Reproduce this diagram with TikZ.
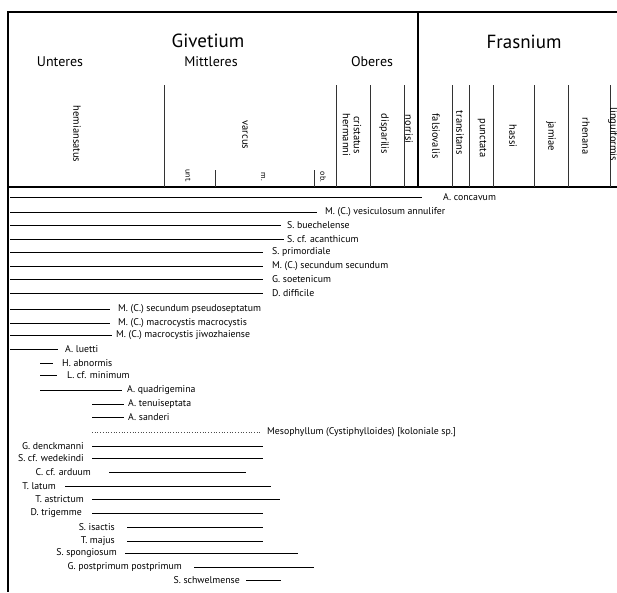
\documentclass[tikz,border=0pt]{standalone}
\usepackage{fontspec}
\setmainfont{PT Sans}
\begin{document}
\begin{tikzpicture}[x=1pt,y=-1pt,
  frame/.style={line width=1.8pt},
  div/.style={line width=0.9pt, black!80},
  bar/.style={line width=0.8pt},
  lab/.style={font=\fontsize{9.8}{10}\selectfont, inner sep=0pt},
  big/.style={font=\fontsize{19}{22}\selectfont, inner sep=0pt, anchor=base},
  mid/.style={font=\fontsize{14}{16}\selectfont, inner sep=0pt, anchor=base},
  zone/.style={font=\fontsize{10.5}{11}\selectfont, inner sep=0pt, rotate=-90, align=center},
  sub/.style={font=\fontsize{8}{9}\selectfont, inner sep=0pt, rotate=-90},
]
\useasboundingbox (0,0) rectangle (617,592);
% frame
\coordinate (tl) at (8,12);
\coordinate (tr) at (617,12);
\coordinate (bl) at (8,592);
\coordinate (hl) at (8,187);
\coordinate (hr) at (617,187);
\coordinate (ft) at (418,12);
\coordinate (fb) at (418,187);
\draw[frame] (tr) -- (tl) -- (bl);
\draw[frame] (hl) -- (hr);
\draw[frame] (ft) -- (fb);
% column dividers
\foreach \cx [count=\k] in {164,336,370,404,452,469,493,534,568,610} {
  \coordinate (dt\k) at (\cx,85);
  \coordinate (db\k) at (\cx,187);
  \draw[div] (dt\k) -- (db\k);
}
\foreach \cx [count=\k] in {215,314} {
  \coordinate (st\k) at (\cx,170);
  \coordinate (sb\k) at (\cx,187);
  \draw[div] (st\k) -- (sb\k);
}
% header texts
\node[big] (giv) at (208,47) {Givetium};
\node[big] (fra) at (524,48) {Frasnium};
\node[mid] (unt) at (60,66) {Unteres};
\node[mid] (mit) at (211,66) {Mittleres};
\node[mid] (obe) at (372,66) {Oberes};
% zones
\node[zone] (z1) at (77,134) {hemiansatus};
\node[zone] (z2) at (245,135) {varcus};
\node[zone] (z3) at (352,135) {cristatus\\hermanni};
\node[zone] (z4) at (384,134) {disparilis};
\node[zone] (z5) at (409,129) {norrisi};
\node[zone] (z6) at (436,136) {falsiovalis};
\node[zone] (z7) at (460,133) {transitans};
\node[zone] (z8) at (482,138) {punctata};
\node[zone] (z9) at (513,136) {hassi};
\node[zone] (z10) at (551,136) {jamiae};
\node[zone] (z11) at (586,136) {rhenana};
\node[zone, anchor=west] (z12) at (613,107) {linguiformis};
\node[sub] (u1) at (188,176) {unt.};
\node[sub] (u2) at (263,177) {m.};
\node[sub] (u3) at (323,177) {ob.};
% ranges with label on the right
\foreach \xa/\xb/\yy/\lx/\txt [count=\i] in {
  10/422/197/443/{A. concavum},
  10/317/212/325/{M. (C.) vesiculosum annulifer},
  10/281/225/287/{S. buechelense},
  10/284/239/287/{S. cf. acanthicum},
  10/263/252/272/{S. primordiale},
  10/263/266/272/{M. (C.) secundum secundum},
  10/263/279/272/{G. soetenicum},
  10/263/293/272/{D. difficile},
  10/110/309/118/{M. (C.) secundum pseudoseptatum},
  10/110/323/118/{M. (C.) macrocystis macrocystis},
  10/112/335/116/{M. (C.) macrocystis jiwozhaiense},
  10/58/349/65/{A. luetti},
  40/53/363/62/{H. abnormis},
  40/57/375/67/{L. cf. minimum},
  40/122/390/127/{A. quadrigemina},
  92/124/404/128/{A. tenuiseptata},
  92/124/417/128/{A. sanderi}} {
  \coordinate (ra\i) at (\xa,\yy);
  \coordinate (rb\i) at (\xb,\yy);
  \node[lab, anchor=west] (rl\i) at (\lx,\yy) {\txt};
  \draw[bar] (ra\i) -- (rb\i);
}
% dotted range
\coordinate (ma) at (92,432);
\coordinate (mb) at (262,432);
\node[lab, anchor=west] (ml) at (267,432) {Mesophyllum (Cystiphylloides) [koloniale sp.]};
\draw[line width=0.7pt, dotted, black!70] (ma) -- (mb);
% ranges with label on the left
\foreach \xa/\xb/\yy/\lx/\txt [count=\i] in {
  92/263/446/84/{G. denckmanni},
  92/263/458/84/{S. cf. wedekindi},
  109/246/472/91/{C. cf. arduum},
  65/271/486/56/{T. latum},
  92/280/499/84/{T. astrictum},
  92/263/513/82/{D. trigemme},
  127/263/527/115/{S. isactis},
  127/263/541/115/{T. majus},
  125/298/553/117/{S. spongiosum},
  194/314/567/182/{G. postprimum postprimum},
  246/281/580/240/{S. schwelmense}} {
  \coordinate (la\i) at (\xa,\yy);
  \coordinate (lb\i) at (\xb,\yy);
  \node[lab, anchor=east] (ll\i) at (\lx,\yy) {\txt};
  \draw[bar] (la\i) -- (lb\i);
}
\end{tikzpicture}
\end{document}
